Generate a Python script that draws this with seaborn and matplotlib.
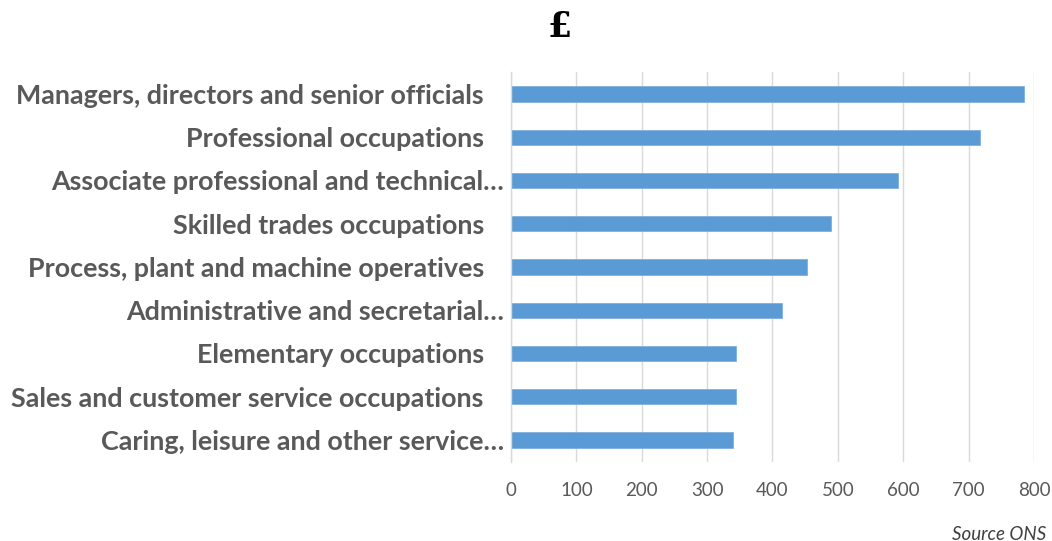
import matplotlib
matplotlib.use("Agg")
import matplotlib.pyplot as plt
import seaborn as sns
import pandas as pd

# Median weekly pay by occupation group (£)
occupations = [
    "Managers, directors and senior officials",
    "Professional occupations",
    "Associate professional and technical…",
    "Skilled trades occupations",
    "Process, plant and machine operatives",
    "Administrative and secretarial…",
    "Elementary occupations",
    "Sales and customer service occupations",
    "Caring, leisure and other service…",
]
weekly_pay = [784, 717, 592, 489, 453, 414, 344, 344, 340]
x_ticks = [0, 100, 200, 300, 400, 500, 600, 700, 800]

df = pd.DataFrame({"occupation": occupations, "pay": weekly_pay})

sns.set_theme(style="white")
plt.rcParams["font.family"] = ["Lato", "DejaVu Sans"]

fig = plt.figure(figsize=(10.52, 5.41), dpi=100)
ax = fig.add_axes([0.4857, 0.1468, 0.4972, 0.7194])

sns.barplot(data=df, x="pay", y="occupation", orient="h",
            color="#5B9BD5", saturation=1, width=0.355,
            edgecolor="#7FB0DE", linewidth=0.6, ax=ax)

ax.set_xlim(0, 800)
ax.set_ylim(len(occupations) - 0.5, -0.5)
ax.set_xticks(x_ticks)
ax.set_xticklabels([str(v) for v in x_ticks])
ax.set_xlabel("")
ax.set_ylabel("")

ax.grid(axis="x", color="#D9D9D9", linewidth=1.0)
ax.grid(axis="y", visible=False)
ax.set_axisbelow(True)
for side in ["top", "right", "bottom"]:
    ax.spines[side].set_visible(False)
ax.spines["left"].set_color("#D9D9D9")
ax.spines["left"].set_linewidth(1.0)

ax.tick_params(axis="x", length=0, pad=15, labelsize=13.5, labelcolor="#595959")
ax.tick_params(axis="y", length=0, labelsize=19.4, labelcolor="#595959")
for lbl in ax.get_yticklabels():
    lbl.set_fontweight("bold")

# truncated labels sit closer to the axis than full ones
for tick, name in zip(ax.yaxis.get_major_ticks(), occupations):
    tick.set_pad(5 if name.endswith("…") else 19.5)

fig.text(560 / 1052, 1 - 27 / 541, "£", ha="center", va="center",
         family="DejaVu Serif", fontweight="bold", fontsize=25, color="black")
fig.text(1046 / 1052, 1 - 534 / 541, "Source ONS", ha="right", va="center",
         fontstyle="italic", fontsize=13.5, color="#404040")

fig.savefig("out.png", dpi=100, facecolor="white")
